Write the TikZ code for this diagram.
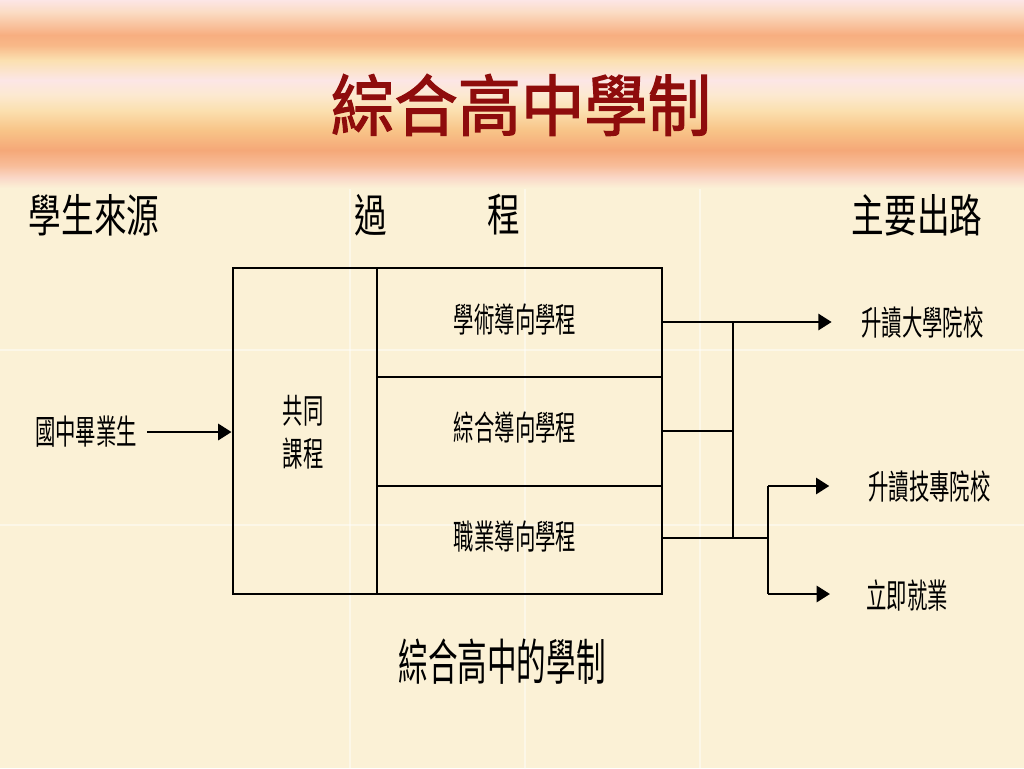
\documentclass[tikz,border=0pt]{standalone}
\usepackage{fontspec}
\newfontfamily\cjk{Noto Sans CJK TC}
\newfontfamily\cjkb{Noto Sans CJK TC}[FakeBold=2]
\usetikzlibrary{arrows.meta}
\definecolor{bgc}{HTML}{FBF1D6}
\definecolor{titlered}{HTML}{8E0C0C}
\definecolor{b0}{HTML}{FCE6E6}
\definecolor{b1}{HTML}{FBDCC4}
\definecolor{b2}{HTML}{F7AE80}
\definecolor{b3}{HTML}{F8B888}
\definecolor{b4}{HTML}{FBE0B0}
\definecolor{b5}{HTML}{FCE6E6}
\definecolor{b6}{HTML}{FCE9D0}
\definecolor{b7}{HTML}{FBE0B0}
\definecolor{b8}{HTML}{F8C488}
\definecolor{b9}{HTML}{F5A878}
\definecolor{b10}{HTML}{F8BC98}
\definecolor{b11}{HTML}{FAD8C8}
\pgfdeclareverticalshading{band}{100bp}{
  color(0bp)=(bgc);
  color(25bp)=(bgc);
  color(27.7bp)=(b11);
  color(31.1bp)=(b10);
  color(35.1bp)=(b9);
  color(40.4bp)=(b8);
  color(45.7bp)=(b7);
  color(49.7bp)=(b6);
  color(53.7bp)=(b5);
  color(59bp)=(b4);
  color(63bp)=(b3);
  color(65.7bp)=(b2);
  color(71.8bp)=(b1);
  color(75bp)=(b0);
  color(100bp)=(b0)}
\newcommand\nar[2]{\scalebox{#1}[1]{#2}}
\begin{document}
\begin{tikzpicture}[x=0.75pt,y=-0.75pt,
  lbl/.style={inner sep=0pt, font=\cjk\fontsize{25.5}{26}\selectfont},
  hdr/.style={inner sep=0pt, font=\cjk\fontsize{34}{35}\selectfont},
  cell/.style={draw, line width=2.2pt, inner sep=0pt},
  conn/.style={line width=2.2pt},
  arr/.style={line width=2.2pt, -{Triangle[length=10pt,width=12pt]}},
  seam/.style={white, opacity=0.45, line width=1pt}]
\useasboundingbox (0,0) rectangle (1024,768);
\fill[bgc] (0,0) rectangle (1024,768);
\foreach \s in {350,525,700} {
  \draw[seam] (\s,185) -- (\s,768);
}
\foreach \s in {350,525} {
  \draw[seam] (0,\s) -- (1024,\s);
}
\shade[shading=band] (0,0) rectangle (1024,188);
% title
\node[inner sep=0pt, text=titlered, font=\cjkb\fontsize{50}{52}\selectfont] (title) at (521,105) {\nar{0.95}{綜合高中學制}};
% headers
\node[hdr] (hsrc) at (94,215) {\nar{0.72}{學生來源}};
\node[hdr] (hp1) at (371,215) {\nar{0.72}{過}};
\node[hdr] (hp2) at (504,215) {\nar{0.72}{程}};
\node[hdr] (hout) at (917,215) {\nar{0.72}{主要出路}};
% main box
\node[cell, minimum width=108pt, minimum height=244.5pt] (common) at (305,431) {};
\node[lbl, align=center] (commontxt) at (303,432) {\nar{0.6}{共同}\\[6pt]\nar{0.6}{課程}};
\node[cell, minimum width=213.75pt, minimum height=81.75pt] (acad) at (519.5,322.5) {};
\node[cell, minimum width=213.75pt, minimum height=81.75pt] (comp) at (519.5,431.5) {};
\node[cell, minimum width=213.75pt, minimum height=81pt] (voc) at (519.5,540) {};
\node[lbl] (acadtxt) at (515,320) {\nar{0.6}{學術導向學程}};
\node[lbl] (comptxt) at (515,428) {\nar{0.6}{綜合導向學程}};
\node[lbl] (voctxt) at (515,537) {\nar{0.6}{職業導向學程}};
% source
\node[lbl] (grad) at (86,432) {\nar{0.6}{國中畢業生}};
\draw[arr] (grad.east) ++(10,0) coordinate (gs) -- (common.west |- gs);
% outcomes
\node[lbl, anchor=west] (univ) at (861,322) {\nar{0.6}{升讀大學院校}};
\node[lbl, anchor=west] (tech) at (868,486) {\nar{0.6}{升讀技專院校}};
\node[lbl, anchor=west] (job) at (866,595) {\nar{0.6}{立即就業}};
\coordinate (j1) at (733,322);
\coordinate (j2) at (733,431);
\coordinate (j3) at (733,538);
\coordinate (j4) at (768,538);
\coordinate (j5) at (768,486);
\coordinate (j6) at (768,594);
\draw[arr] (acad.east |- j1) -- ([xshift=-22]univ.west);
\draw[conn] (comp.east |- j2) -- (j2);
\draw[conn] (voc.east |- j3) -- (j4);
\draw[conn] (j1) -- (j3);
\draw[conn] (j5) -- (j6);
\draw[arr] (j5) -- ([xshift=-29]tech.west);
\draw[arr] (j6) -- ([xshift=-27]job.west |- j6);
% caption
\node[inner sep=0pt, font=\cjk\fontsize{37}{38}\selectfont] (caption) at (502,662) {\nar{0.6}{綜合高中的學制}};
\end{tikzpicture}
\end{document}
